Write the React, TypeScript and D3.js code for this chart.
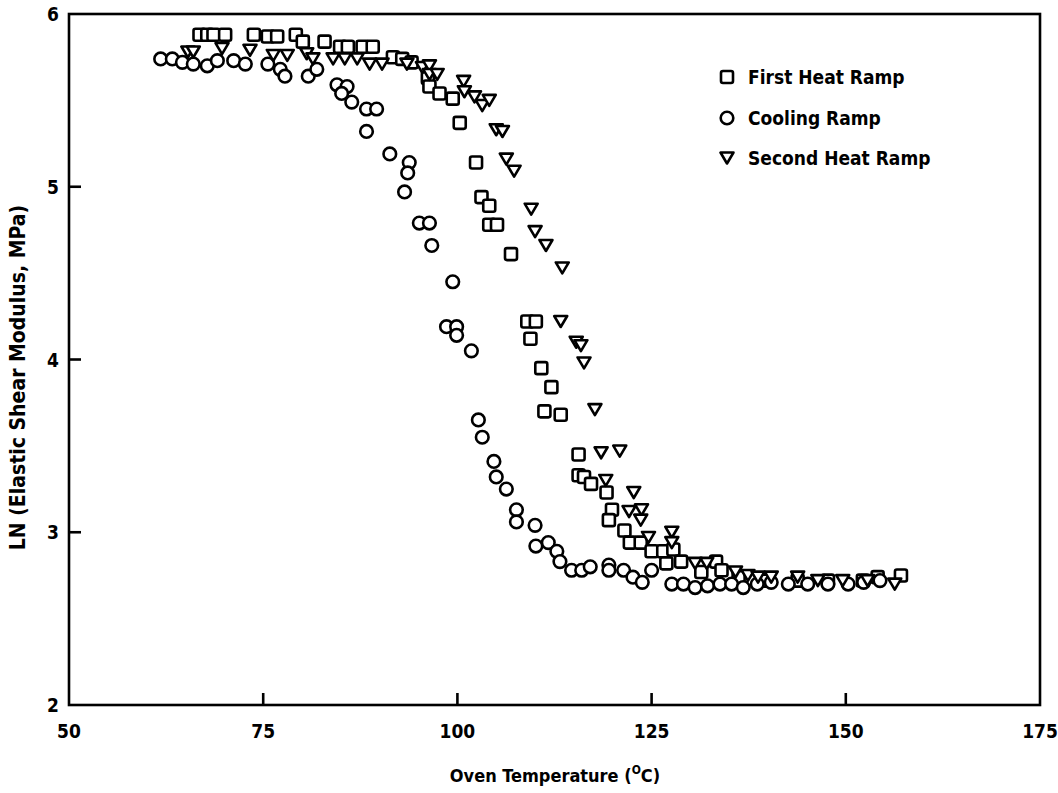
import React from "react";
import * as d3 from "d3";

const firstHeatT = [66.8, 67.8, 68.6, 70.1, 73.8, 75.6, 76.8, 79.2, 80.1, 82.9, 84.9, 85.9, 87.8, 89.1, 91.7, 92.9, 94.1, 96.2, 96.4, 97.7, 99.4, 100.3, 102.4, 103.1, 104.1, 104.1, 105.1, 106.9, 109.0, 110.1, 109.4, 110.8, 112.1, 111.2, 113.3, 115.6, 115.6, 116.3, 117.2, 119.2, 119.9, 119.5, 121.5, 122.2, 123.6, 125.0, 126.5, 127.8, 126.9, 128.8, 131.4, 133.3, 134.0, 136.2, 139.4, 143.8, 147.7, 152.2, 154.1, 157.1];
const firstHeatV = [5.88, 5.88, 5.88, 5.88, 5.88, 5.87, 5.87, 5.88, 5.84, 5.84, 5.81, 5.81, 5.81, 5.81, 5.75, 5.74, 5.72, 5.63, 5.58, 5.54, 5.51, 5.37, 5.14, 4.94, 4.89, 4.78, 4.78, 4.61, 4.22, 4.22, 4.12, 3.95, 3.84, 3.70, 3.68, 3.45, 3.33, 3.32, 3.28, 3.23, 3.13, 3.07, 3.01, 2.94, 2.94, 2.89, 2.89, 2.90, 2.82, 2.83, 2.77, 2.83, 2.78, 2.74, 2.72, 2.72, 2.72, 2.72, 2.74, 2.75];

const coolingT = [61.8, 63.3, 64.6, 66.0, 67.8, 69.1, 71.2, 72.7, 75.6, 77.2, 77.8, 80.8, 81.9, 84.5, 85.8, 85.1, 86.4, 88.3, 89.6, 88.3, 91.3, 93.8, 93.6, 93.2, 95.1, 96.4, 96.7, 99.4, 98.6, 99.9, 99.9, 101.8, 102.7, 103.2, 104.7, 105.0, 106.3, 107.6, 107.6, 110.0, 110.1, 111.7, 112.8, 113.2, 114.7, 116.0, 117.1, 119.5, 119.5, 121.4, 122.6, 123.8, 125.0, 127.6, 129.1, 130.6, 132.2, 133.8, 135.3, 136.8, 138.6, 140.4, 142.6, 145.1, 147.7, 150.3, 152.3, 154.4];
const coolingV = [5.74, 5.74, 5.72, 5.71, 5.70, 5.73, 5.73, 5.71, 5.71, 5.68, 5.64, 5.64, 5.68, 5.59, 5.58, 5.54, 5.49, 5.45, 5.45, 5.32, 5.19, 5.14, 5.08, 4.97, 4.79, 4.79, 4.66, 4.45, 4.19, 4.19, 4.14, 4.05, 3.65, 3.55, 3.41, 3.32, 3.25, 3.13, 3.06, 3.04, 2.92, 2.94, 2.89, 2.83, 2.78, 2.78, 2.80, 2.81, 2.78, 2.78, 2.74, 2.71, 2.78, 2.70, 2.70, 2.68, 2.69, 2.70, 2.70, 2.68, 2.70, 2.71, 2.70, 2.70, 2.70, 2.70, 2.71, 2.72];

const secondHeatT = [65.3, 66.0, 69.7, 73.3, 76.3, 78.1, 80.6, 81.4, 84.0, 85.5, 87.1, 88.7, 90.3, 93.5, 95.5, 96.4, 96.4, 97.4, 100.8, 100.9, 102.2, 103.2, 104.1, 105.0, 105.8, 106.3, 107.3, 109.5, 110.0, 111.4, 113.5, 113.3, 115.3, 115.9, 116.3, 117.7, 118.5, 120.9, 119.1, 122.7, 122.1, 123.7, 123.6, 124.6, 127.6, 127.6, 130.6, 132.1, 135.8, 137.4, 138.7, 140.4, 143.8, 146.4, 149.6, 152.8, 156.3];
const secondHeatV = [5.78, 5.78, 5.80, 5.79, 5.76, 5.76, 5.77, 5.74, 5.74, 5.74, 5.74, 5.71, 5.71, 5.71, 5.69, 5.70, 5.65, 5.65, 5.61, 5.55, 5.52, 5.47, 5.50, 5.33, 5.32, 5.16, 5.09, 4.87, 4.74, 4.66, 4.53, 4.22, 4.10, 4.08, 3.98, 3.71, 3.46, 3.47, 3.30, 3.23, 3.12, 3.13, 3.07, 2.97, 3.00, 2.94, 2.82, 2.82, 2.77, 2.75, 2.74, 2.74, 2.74, 2.72, 2.72, 2.72, 2.70];

const xTicks = [50, 75, 100, 125, 150, 175];
const yTicks = [2, 3, 4, 5, 6];
const legendLabels = ["First Heat Ramp", "Cooling Ramp", "Second Heat Ramp"];

const FONT = "'DejaVu Sans Condensed', 'DejaVu Sans', sans-serif";

const x = d3.scaleLinear().domain([50, 175]).range([69, 1040]);
const y = d3.scaleLinear().domain([2, 6]).range([705, 14]);

const sq = 12;
const circR = 6.3;
const triPath = (cx: number, cy: number) => {
  const w = 13, h = 11;
  return `M${cx - w / 2},${cy - h / 2}L${cx + w / 2},${cy - h / 2}L${cx},${cy + h / 2}Z`;
};

const Square = ({ cx, cy }: { cx: number; cy: number }) => (
  <rect x={cx - sq / 2} y={cy - sq / 2} width={sq} height={sq} rx={2} fill="white" stroke="black" strokeWidth={2.6} />
);
const Circle = ({ cx, cy }: { cx: number; cy: number }) => (
  <circle cx={cx} cy={cy} r={circR} fill="white" stroke="black" strokeWidth={2.6} />
);
const Tri = ({ cx, cy }: { cx: number; cy: number }) => (
  <path d={triPath(cx, cy)} fill="white" stroke="black" strokeWidth={2.6} strokeLinejoin="round" />
);

export default function App() {
  const [x0, x1] = x.range();
  const [y0, y1] = y.range();
  return (
    <svg width={1058} height={793} style={{ position: "absolute", left: 0, top: 0, background: "white" }}>
      <rect x={0} y={0} width={1058} height={793} fill="white" />
      {/* frame */}
      <rect x={x0} y={y1} width={x1 - x0} height={y0 - y1} fill="none" stroke="black" strokeWidth={2.6} />
      {/* x ticks */}
      {xTicks.map((t) => (
        <g key={"xt" + t}>
          {t > 50 && t < 175 && <line x1={x(t)} x2={x(t)} y1={y0} y2={y0 - 12} stroke="black" strokeWidth={2.6} />}
          <text x={x(t)} y={738} textAnchor="middle" fontFamily={FONT} fontWeight="bold" fontSize={19}>
            {t}
          </text>
        </g>
      ))}
      {/* y ticks */}
      {yTicks.map((t) => (
        <g key={"yt" + t}>
          {t > 2 && t < 6 && <line x1={x0} x2={x0 + 12} y1={y(t)} y2={y(t)} stroke="black" strokeWidth={2.6} />}
          <text x={53} y={y(t) + 7} textAnchor="middle" fontFamily={FONT} fontWeight="bold" fontSize={19}>
            {t}
          </text>
        </g>
      ))}
      {/* axis titles */}
      <text x={555} y={782} textAnchor="middle" fontFamily={FONT} fontWeight="bold" fontSize={18}>
        Oven Temperature (<tspan fontSize={12} dy={-8}>O</tspan><tspan dy={8}>C)</tspan>
      </text>
      <text
        transform={`translate(25,${(y0 + y1) / 2 + 18}) rotate(-90)`}
        textAnchor="middle"
        fontFamily={FONT}
        fontWeight="bold"
        fontSize={21}
      >
        LN (Elastic Shear Modulus, MPa)
      </text>
      {/* data */}
      <g>
        {firstHeatT.map((t, i) => (
          <Square key={"f" + i} cx={x(t)} cy={y(firstHeatV[i])} />
        ))}
        {coolingT.map((t, i) => (
          <Circle key={"c" + i} cx={x(t)} cy={y(coolingV[i])} />
        ))}
        {secondHeatT.map((t, i) => (
          <Tri key={"s" + i} cx={x(t)} cy={y(secondHeatV[i])} />
        ))}
      </g>
      {/* legend */}
      <g>
        <Square cx={727} cy={77} />
        <Circle cx={727} cy={118} />
        <Tri cx={727} cy={158} />
        {legendLabels.map((l, i) => (
          <text key={l} x={748} y={84 + i * 40.5} fontFamily={FONT} fontWeight="bold" fontSize={19}>
            {l}
          </text>
        ))}
      </g>
    </svg>
  );
}
